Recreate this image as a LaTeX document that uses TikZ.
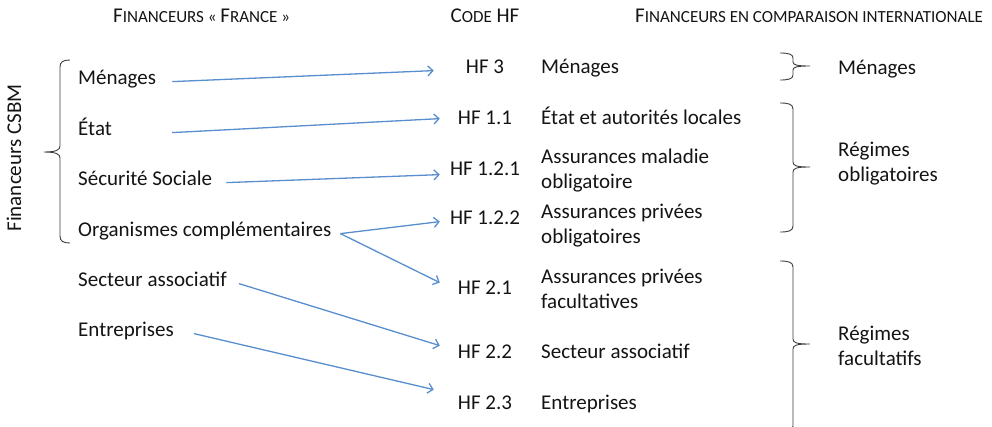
\documentclass[tikz,border=0pt]{standalone}
\usepackage{fontspec}
\setmainfont{Carlito}
\usetikzlibrary{arrows.meta,calc}
\definecolor{arrowblue}{RGB}{88,141,206}
\definecolor{bracegray}{RGB}{60,60,60}
\definecolor{txtcol}{RGB}{20,20,20}
\newcommand\smc{\fontsize{17}{20}\selectfont}
\begin{document}
\begin{tikzpicture}[x=1pt,y=-1pt,
  txt/.style={inner sep=0pt, anchor=base west, text=txtcol, font=\fontsize{21}{25}\selectfont, align=left},
  codetxt/.style={inner sep=0pt, anchor=base, text=txtcol, font=\fontsize{21}{25}\selectfont},
  head/.style={inner sep=0pt, text=txtcol, font=\fontsize{21}{24}\selectfont},
  arr/.style={draw=arrowblue, line width=1.3pt, -{Straight Barb[length=5pt,width=10pt]}},
  brc/.style={draw=bracegray, line width=0.9pt}]
\useasboundingbox (0,0) rectangle (992,426);

% headers
\node[head, anchor=base west] (h1) at (113,22) {F{\smc INANCEURS « }F{\smc RANCE »}};
\node[head, anchor=base] (h2) at (485,22) {C{\smc ODE} HF};
\node[head, anchor=base west] (h3) at (635,22) {F{\smc INANCEURS EN COMPARAISON INTERNATIONALE}};

% rotated label
\node[inner sep=0pt, text=txtcol, font=\fontsize{21}{25}\selectfont, rotate=90] (csbm) at (14,158) {Financeurs CSBM};

% left column
\node[txt] (men) at (78,84) {Ménages};
\node[txt] (eta) at (78,135) {État};
\node[txt] (secu) at (78,185) {Sécurité Sociale};
\node[txt] (org) at (78,236) {Organismes complémentaires};
\node[txt] (sect) at (78,286) {Secteur associatif};
\node[txt] (entr) at (78,336) {Entreprises};

% codes
\node[codetxt] (hf3) at (485,73) {HF 3};
\node[codetxt] (hf11) at (485,124) {HF 1.1};
\node[codetxt] (hf121) at (485,175) {HF 1.2.1};
\node[codetxt] (hf122) at (485,224) {HF 1.2.2};
\node[codetxt] (hf21) at (485,294) {HF 2.1};
\node[codetxt] (hf22) at (485,358) {HF 2.2};
\node[codetxt] (hf23) at (485,409) {HF 2.3};

% descriptions
\node[txt] (d3) at (541,73) {Ménages};
\node[txt] (d11) at (541,124) {État et autorités locales};
\node[txt] (d121) at (541,188) {Assurances maladie\\obligatoire};
\node[txt] (d122) at (541,243) {Assurances privées\\obligatoires};
\node[txt] (d21) at (541,308) {Assurances privées\\facultatives};
\node[txt] (d22) at (541,358) {Secteur associatif};
\node[txt] (d23) at (541,409) {Entreprises};

% international
\node[txt] (r1) at (838,74) {Ménages};
\node[txt] (r2) at (838,181) {Régimes\\obligatoires};
\node[txt] (r3) at (838,365) {Régimes\\facultatifs};

% arrows
\draw[arr] ($(men.mid east)+(16,0)$) -- ($(hf3.mid west)+(-32,0)$);
\draw[arr] ($(eta.mid east)+(60,0)$) -- ($(hf11.mid west)+(-18,-3)$);
\draw[arr] ($(secu.mid east)+(14,0)$) -- ($(hf121.mid west)+(-10,2)$);
\draw[arr] ($(org.mid east)+(9,0)$) -- ($(hf122.mid west)+(-10,0)$);
\draw[arr] ($(org.mid east)+(9,0)$) -- ($(hf21.mid west)+(-18,-9)$);
\draw[arr] ($(sect.mid east)+(12,0)$) -- ($(hf22.mid west)+(-18,-10)$);
\draw[arr] ($(entr.mid east)+(20,0)$) -- ($(hf23.mid west)+(-24,-17)$);

% left brace
\draw[brc] (70,60) .. controls (63,60) and (60,62) .. (60,67) -- (60,146)
  .. controls (60,150) and (56,152) .. (44,152)
  .. controls (56,152) and (60,154) .. (60,158) -- (60,236)
  .. controls (60,241) and (63,243) .. (70,243);

% right braces
\draw[brc] (780,53) .. controls (788,53) and (793,54) .. (793,58) -- (793,62)
  .. controls (793,65) and (797,66) .. (810,66)
  .. controls (797,66) and (793,67) .. (793,70) -- (793,75)
  .. controls (793,79) and (788,80) .. (780,80);
\draw[brc] (780,103) .. controls (788,103) and (793,104) .. (793,109) -- (793,162)
  .. controls (793,166) and (797,167) .. (810,167)
  .. controls (797,167) and (793,168) .. (793,172) -- (793,226)
  .. controls (793,231) and (788,232) .. (780,232);
\draw[brc] (780,261) .. controls (788,261) and (793,262) .. (793,267) -- (793,339)
  .. controls (793,343) and (797,344) .. (810,344)
  .. controls (797,344) and (793,345) .. (793,349) -- (793,426)
  .. controls (793,431) and (788,432) .. (780,432);
\end{tikzpicture}
\end{document}
